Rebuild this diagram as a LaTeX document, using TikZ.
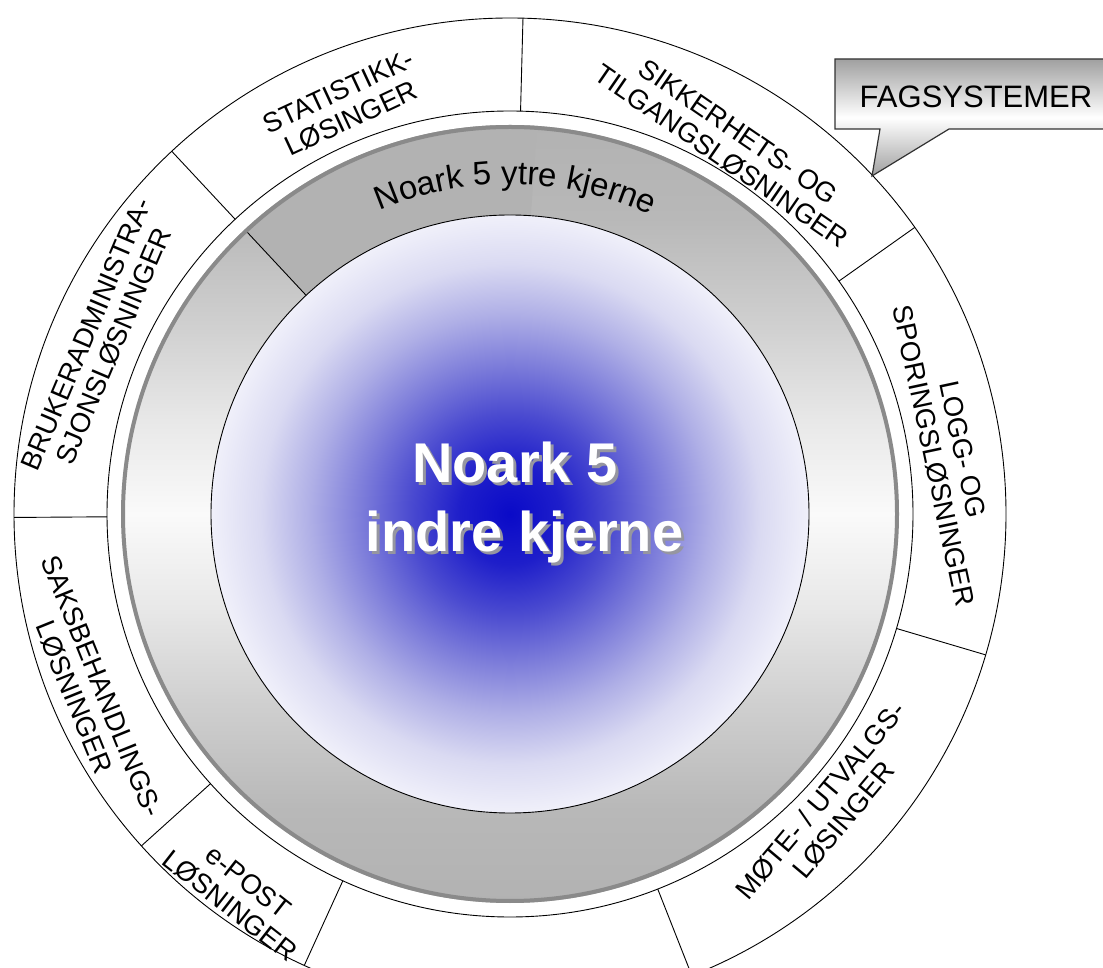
\documentclass[tikz,border=0pt]{standalone}
\usepackage{fontspec}
\setmainfont{Liberation Sans}
\usetikzlibrary{decorations.text}

\definecolor{bA}{RGB}{10,10,200}
\definecolor{bB}{RGB}{30,30,202}
\definecolor{bC}{RGB}{75,75,208}
\definecolor{bD}{RGB}{125,125,218}
\definecolor{bE}{RGB}{175,175,230}
\definecolor{bF}{RGB}{218,218,242}
\definecolor{bG}{RGB}{240,240,250}
\pgfdeclareradialshading{blueglow}{\pgfpoint{0bp}{0bp}}{%
  color(0bp)=(bA); color(4.2bp)=(bB); color(8.4bp)=(bC); color(12.5bp)=(bD);
  color(16.7bp)=(bE); color(20.9bp)=(bF); color(25bp)=(bG); color(50bp)=(bG)}

\definecolor{gA}{RGB}{178,178,178}
\definecolor{gB}{RGB}{184,184,184}
\definecolor{gC}{RGB}{208,208,208}
\definecolor{gD}{RGB}{232,232,232}
\definecolor{gE}{RGB}{250,250,250}
\pgfdeclareverticalshading{ringshade}{100bp}{%
  color(0bp)=(gA); color(25bp)=(gA); color(31bp)=(gB); color(38bp)=(gC);
  color(44bp)=(gD); color(50bp)=(gE); color(56bp)=(gD); color(62bp)=(gC);
  color(69bp)=(gB); color(75bp)=(gA); color(100bp)=(gA)}

\definecolor{ringborder}{RGB}{138,138,138}
\definecolor{calloutgray}{RGB}{160,160,160}
\definecolor{calloutline}{RGB}{50,50,50}
\definecolor{titleshadow}{RGB}{150,150,160}

\begin{document}
\begin{tikzpicture}[x=1pt,y=1pt,
  lbl/.style={font=\fontsize{27.5}{30}\selectfont, align=center, inner sep=0pt},
  ringline/.style={line width=0.9pt, draw=black},
  titletext/.style={font=\fontsize{56}{60}\selectfont\bfseries, inner sep=0pt, anchor=base},
]
\useasboundingbox (0,0) rectangle (1103,967);
\begin{scope}[shift={(510,453)}]
  % outer ring of solutions
  \draw[ringline, fill=white] (0,0) circle (496);
  \draw[ringline] (0,0) circle (403);
  \foreach \a in {35.3, 88.5, 133, 180.4, 222, 245.5, 291.5, 343.5}
    \draw[ringline] (\a:403) -- (\a:496);

  % grey ring (outer core)
  \shade[shading=ringshade] (0,0) circle (389);
  \fill[gA] (0,0) -- (133:389) arc[start angle=133, end angle=86, radius=389] -- cycle;
  \draw[ringline] (133:299) -- (133:386);
  \draw[ringborder, line width=4pt] (0,0) circle (387);

  % inner core
  \shade[shading=blueglow] (0,0) circle (299);
  \draw[ringline] (0,0) circle (299);

  % curved label of the outer core
  \path[decorate, decoration={text along path, text align=center,
      text={|\fontsize{33}{35}\selectfont|Noark 5 ytre kjerne}}]
    (139:330) arc[start angle=139, end angle=39, radius=330];

  % title
  \node[titletext, text=titleshadow] (t1s) at (8,28) {Noark 5};
  \node[titletext, text=white] (t1) at (5,31) {Noark 5};
  \node[titletext, text=titleshadow] (t2s) at (17.5,-41) {indre kjerne};
  \node[titletext, text=white] (t2) at (14.5,-38) {indre kjerne};

  % segment labels
  \node[lbl, rotate=25] (stat) at (-165,409) {STATISTIKK-\\LØSINGER};
  \node[lbl, rotate=-34.5] (sikk) at (220,370) {SIKKERHETS- OG\\TILGANGSLØSNINGER};
  \node[lbl, rotate=67] (bruk) at (-410,174) {BRUKERADMINISTRA-\\SJONSLØSNINGER};
  \node[lbl, rotate=-68] (saks) at (-422,-178) {SAKSBEHANDLINGS-\\LØSNINGER};
  \node[lbl, rotate=-38] (epost) at (-271,-380) {e-POST\\LØSNINGER};
  \node[lbl, rotate=50] (mote) at (322,-296) {MØTE- / UTVALGS-\\LØSINGER};
  \node[lbl, rotate=-78] (logg) at (438,61) {LOGG- OG\\SPORINGSLØSNINGER};

  % callout
  \draw[calloutline, line width=1.2pt, top color=calloutgray, bottom color=calloutgray, middle color=white]
    (325,455) -- (600,455) -- (600,385) -- (439,385) -- (362,338) -- (370,385) -- (325,385) -- cycle;
  \node[font=\fontsize{31}{33}\selectfont, anchor=base, inner sep=0pt] (fag) at (466,406) {FAGSYSTEMER};
\end{scope}
\end{tikzpicture}
\end{document}
